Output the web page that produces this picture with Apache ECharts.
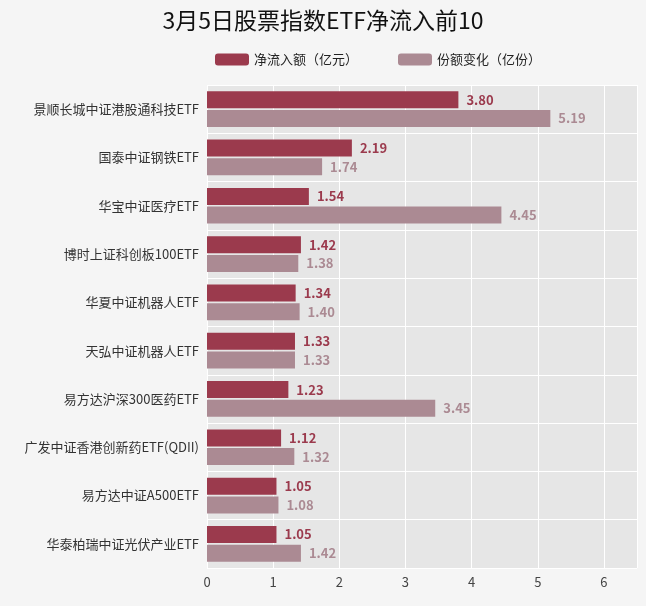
<!DOCTYPE html>
<html><head><meta charset="utf-8">
<script src="https://cdn.jsdelivr.net/npm/echarts@6/dist/echarts.min.js"></script>
<style>html,body{margin:0;background:#f5f5f5}#chart{width:646px;height:606px}</style>
</head><body><div id="chart"></div>
<script>
var categories = ['景顺长城中证港股通科技ETF','国泰中证钢铁ETF','华宝中证医疗ETF','博时上证科创板100ETF','华夏中证机器人ETF','天弘中证机器人ETF','易方达沪深300医药ETF','广发中证香港创新药ETF(QDII)','易方达中证A500ETF','华泰柏瑞中证光伏产业ETF'];
var netInflow = [3.80,2.19,1.54,1.42,1.34,1.33,1.23,1.12,1.05,1.05];
var shareChange = [5.19,1.74,4.45,1.38,1.40,1.33,3.45,1.32,1.08,1.42];

var font = 'Noto Sans CJK SC';
var myChart = echarts.init(document.getElementById('chart'));
myChart.setOption({
    backgroundColor: '#f5f5f5',
    textStyle: {fontFamily: font},
    title: {
        text: '3月5日股票指数ETF净流入前10',
        left: 'center', top: 4,
        textStyle: {fontSize: 23, fontWeight: 'normal', color: '#111', fontFamily: font}
    },
    legend: {
        top: 48, left: 210, itemWidth: 34, itemHeight: 12, itemGap: 40,
        textStyle: {fontSize: 13, color: '#222'},
        data: ['净流入额（亿元）', '份额变化（亿份）']
    },
    grid: {left: 207, right: 9, top: 85, bottom: 38, show: true, backgroundColor: '#e6e6e6', borderWidth: 0},
    xAxis: {
        type: 'value', min: 0, max: 6.5, interval: 1,
        axisLabel: {color: '#444', fontSize: 13, formatter: function (v) { return v % 1 === 0 ? v : ''; }},
        splitLine: {lineStyle: {color: '#fff', width: 1}},
        axisLine: {show: false}, axisTick: {show: false}
    },
    yAxis: {
        type: 'category', inverse: true, data: categories,
        axisLabel: {color: '#333', fontSize: 13},
        axisLine: {show: false}, axisTick: {show: false},
        splitLine: {show: true, lineStyle: {color: '#fff'}}
    },
    series: [{
        name: '净流入额（亿元）', type: 'bar', data: netInflow, barWidth: 17, barGap: '10%',
        itemStyle: {color: '#9b3a4d'},
        label: {show: true, position: 'right', distance: 8, fontWeight: 'bold', fontSize: 13, color: '#9b3a4d',
            formatter: function (p) { return p.value.toFixed(2); }}
    }, {
        name: '份额变化（亿份）', type: 'bar', data: shareChange, barWidth: 17,
        itemStyle: {color: '#ab8a93'},
        label: {show: true, position: 'right', distance: 8, fontWeight: 'bold', fontSize: 13, color: '#ab8a93',
            formatter: function (p) { return p.value.toFixed(2); }}
    }]
});
</script></body></html>
